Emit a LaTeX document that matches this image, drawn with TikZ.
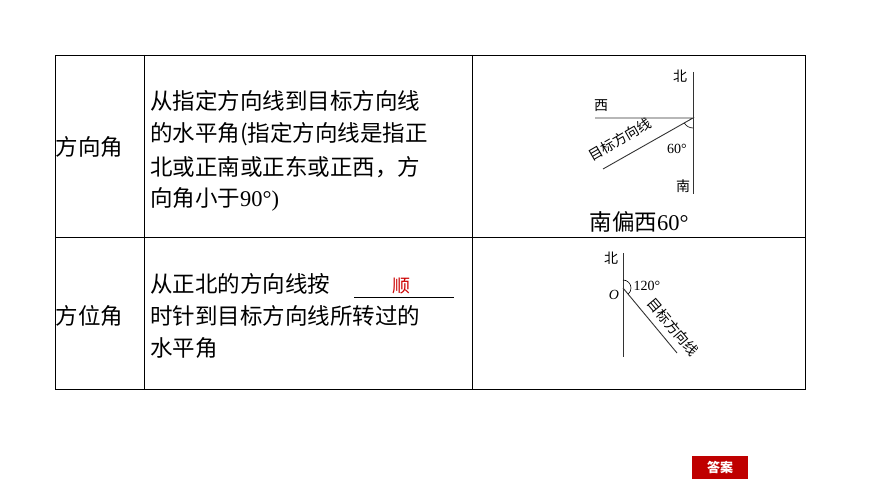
\documentclass[tikz,border=0pt]{standalone}
\usepackage{fontspec}
\usetikzlibrary{calc}
\setmainfont{Liberation Serif}
\newfontfamily\cjk{Noto Sans CJK SC}
\begin{document}
\begin{tikzpicture}[x=1pt,y=-1pt,
  txt/.style={anchor=west,inner sep=0pt,font=\fontsize{22.5}{22.5}\selectfont},
  sm/.style={inner sep=0pt,font=\fontsize{14}{14}\selectfont},
  ln/.style={draw=black!80,line width=0.9pt}]
\useasboundingbox (0,0) rectangle (870,489);
\draw[line width=0.8pt] (55,55) rectangle (805,389);
\draw[line width=0.8pt] (144,55) -- (144,389) (472,55) -- (472,389) (55,237) -- (805,237);
\node[txt] (h1) at (55.5,147) {\cjk 方向角};
\node[txt] (h2) at (55.5,316) {\cjk 方位角};
\node[txt] (a1) at (150,101) {\cjk 从指定方向线到目标方向线};
\node[txt] (a2) at (150,134) {\cjk 的水平角(指定方向线是指正};
\node[txt] (a3) at (150,167) {\cjk 北或正南或正东或正西，方};
\node[txt] (a4) at (150,199) {\cjk 向角小于{\rmfamily 90°)}};
\node[txt] (b1) at (150,284) {\cjk 从正北的方向线按};
\coordinate (u1) at (354,297); \coordinate (u2) at (454,297);
\draw (u1) -- (u2);
\node[txt,anchor=center,text=red!80!black,font=\fontsize{18}{18}\selectfont] (bl) at (401,286) {\cjk 顺};
\node[txt] (b2) at (150,316) {\cjk 时针到目标方向线所转过的};
\node[txt] (b3) at (150,348) {\cjk 水平角};
% diagram 1
\coordinate (N1) at (693,72); \coordinate (S1) at (693,194); \coordinate (V1) at (693,118);
\coordinate (W1) at (595,118); \coordinate (T1) at (603,169);
\draw[ln] (N1) -- (S1); \draw[ln] (W1) -- (V1) -- (T1);
\draw[line width=0.6pt] ($(V1)+(0,10)$) arc[start angle=90,end angle=150,radius=10] ;
\node[sm] (n1) at (680,76) {\cjk 北};
\node[sm] (w1) at (601,106) {\cjk 西};
\node[sm] (s1) at (683,186) {\cjk 南};
\node[sm] (d1) at (677,149) {60°};
\node[sm,rotate=30] (t1) at (620,139) {\cjk 目标方向线};
\node[inner sep=0pt,font=\fontsize{22.5}{22.5}\selectfont] (c1) at (639,222) {{\cjk 南偏西}60°};
% diagram 2
\coordinate (N2) at (623,253); \coordinate (S2) at (623,357); \coordinate (V2) at (623,288);
\coordinate (T2) at (677,353);
\draw[ln] (N2) -- (S2); \draw[ln] (V2) -- (T2);
\draw[line width=0.6pt] ($(V2)+(0,-8)$) arc[start angle=-90,end angle=50,radius=8];
\node[sm] (n2) at (611,258) {\cjk 北};
\node[sm,font=\fontsize{14}{14}\selectfont\itshape] (o2) at (614,295) {O};
\node[sm] (d2) at (647,286) {120°};
\node[sm,rotate=-50] (t2) at (673,327) {\cjk 目标方向线};
% answer button
\node[fill=red!75!black,text=white,minimum width=56,minimum height=23,inner sep=0pt,font=\fontsize{13}{13}\selectfont\bfseries] (ans) at (720,467) {\cjk 答案};
\end{tikzpicture}
\end{document}
